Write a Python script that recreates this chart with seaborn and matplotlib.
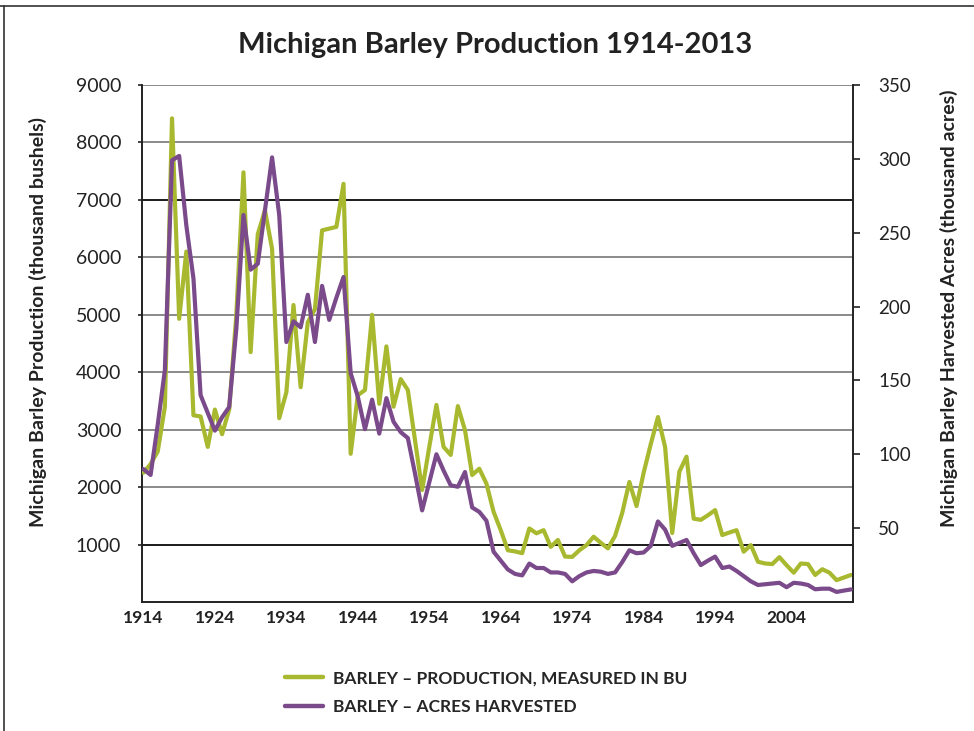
import matplotlib
matplotlib.use('Agg')
import matplotlib.pyplot as plt
from matplotlib.lines import Line2D
import seaborn as sns
import numpy as np
import pandas as pd

# Data
years = list(range(1914, 2014))

production_bu = [  # thousand bushels
    2250, 2400, 2620, 3400, 8420, 4930, 6100, 3250, 3230, 2700,
    3350, 2920, 3350, 5000, 7480, 4350, 6400, 6820, 6150, 3200,
    3650, 5170, 3740, 4870, 5100, 6470, 6500, 6530, 7280, 2580,
    3600, 3690, 5000, 3450, 4450, 3400, 3880, 3690, 2820, 1950,
    2700, 3430, 2700, 2560, 3410, 2990, 2210, 2320, 2060, 1570,
    1250, 900, 880, 850, 1280, 1195, 1250, 960, 1080, 790,
    785, 900, 990, 1136, 1030, 933, 1150, 1550, 2090, 1670,
    2250, 2750, 3220, 2700, 1200, 2270, 2530, 1450, 1430, 1510,
    1600, 1165, 1210, 1250, 875, 990, 700, 670, 660, 780,
    640, 510, 670, 660, 470, 570, 510, 380, 425, 470,
]

acres_harvested = [  # thousand acres
    90, 86, 120, 157, 299, 302, 255, 219, 140, 128,
    116, 125, 132, 185, 262, 225, 229, 265, 301, 262,
    176, 190, 186, 208, 176, 214, 191, 206, 220, 155,
    139, 117, 137, 114, 138, 122, 115, 111, 87, 62,
    81, 100, 89, 79, 78, 88, 64, 61, 55, 34,
    28, 22, 19, 18, 26, 23, 23, 20, 20, 19,
    14, 17.5, 20, 21, 20.5, 19, 20, 27, 35, 33,
    33.5, 38, 54.5, 49, 38, 40, 42, 33, 25, 28,
    30.7, 23, 24, 21, 17.5, 14, 11.5, 12, 12.5, 13,
    10, 13, 12.5, 11.5, 8.6, 9, 9, 6.8, 7.7, 8.5,
]

left_ticks = [1000, 2000, 3000, 4000, 5000, 6000, 7000, 8000, 9000]
right_ticks = [50, 100, 150, 200, 250, 300, 350]
x_ticks = list(range(1914, 2005, 10))

title = "Michigan Barley Production 1914-2013"
left_label = "Michigan Barley Production (thousand bushels)"
right_label = "Michigan Barley Harvested Acres (thousand acres)"
series_labels = ["BARLEY \u2013 PRODUCTION, MEASURED IN BU",
                 "BARLEY \u2013 ACRES HARVESTED"]

GREEN = "#A8B92F"
PURPLE = "#7A4A8A"

sns.set_theme(style="white")
plt.rcParams['font.family'] = ['Lato', 'DejaVu Sans']

df = pd.DataFrame({"year": years, "production": production_bu,
                   "acres": acres_harvested})

fig = plt.figure(figsize=(9.74, 7.31), dpi=100)
ax = fig.add_axes([0.1458, 0.1765, 0.7300, 0.7072])
ax2 = ax.twinx()

# gridlines (a couple of them are drawn darker in the original)
for v in left_ticks:
    c = "#1a1a1a" if v in (1000, 7000) else "#8a8a8a"
    ax.axhline(v, color=c, lw=1.4, zorder=0)

sns.lineplot(data=df, x="year", y="production", ax=ax, color=GREEN,
             lw=3.0, zorder=3)
sns.lineplot(data=df, x="year", y="acres", ax=ax2, color=PURPLE,
             lw=3.0, zorder=3)

ax.set_xlim(1913.8, 2013.3)
ax.set_ylim(0, 9000)
ax2.set_ylim(0, 350)

ax.set_xticks(x_ticks)
ax.set_xticklabels([str(x) for x in x_ticks], fontsize=12.5, fontweight='bold',
                   color="#222222")
ax.set_yticks(left_ticks)
ax.set_yticklabels([str(v) for v in left_ticks], fontsize=14, color="#222222")
ax2.set_yticks(right_ticks)
ax2.set_yticklabels([str(v) for v in right_ticks], fontsize=13.5, color="#222222")

ax.tick_params(axis='x', length=0, pad=6)
ax.tick_params(axis='y', length=3, width=1.2, color="#222222", pad=12, direction='out')
ax2.tick_params(axis='y', length=5, width=1.2, color="#222222", pad=13, direction='out')

ax.set_xlabel("")
ax.set_ylabel(left_label, fontsize=14, fontweight='bold', color="#222222")
ax2.set_ylabel(right_label, fontsize=14, fontweight='bold', color="#222222")
ax.yaxis.set_label_coords(-0.134, 0.542)
ax2.yaxis.set_label_coords(1.122, 0.569)

for a in (ax, ax2):
    a.spines["top"].set_visible(False)
    for s in a.spines.values():
        s.set_color("#222222")
        s.set_linewidth(1.4)
ax.spines["right"].set_visible(False)
ax2.spines["left"].set_visible(False)
ax2.spines["bottom"].set_visible(False)

fig.text(0.508, 0.938, title, ha='center', va='center', fontsize=21,
         fontweight='bold', color="#222222")

handles = [Line2D([], [], color=GREEN, lw=3.2),
           Line2D([], [], color=PURPLE, lw=3.2)]
fig.legend(handles, series_labels, loc='upper left',
           bbox_to_anchor=(0.2854, 0.0925), frameon=False,
           prop={'weight': 'bold', 'size': 12.5}, handlelength=2.2,
           handletextpad=0.57, labelspacing=0.74, borderaxespad=0)

# outer frame (top and left edges visible in the original)
fig.add_artist(Line2D([0, 1], [0.992, 0.992], color="#333333", lw=1.2,
                      transform=fig.transFigure))
fig.add_artist(Line2D([0.0045, 0.0045], [0, 0.992], color="#333333", lw=1.2,
                      transform=fig.transFigure))

fig.savefig("out.png", dpi=100, facecolor="white")
plt.close(fig)
